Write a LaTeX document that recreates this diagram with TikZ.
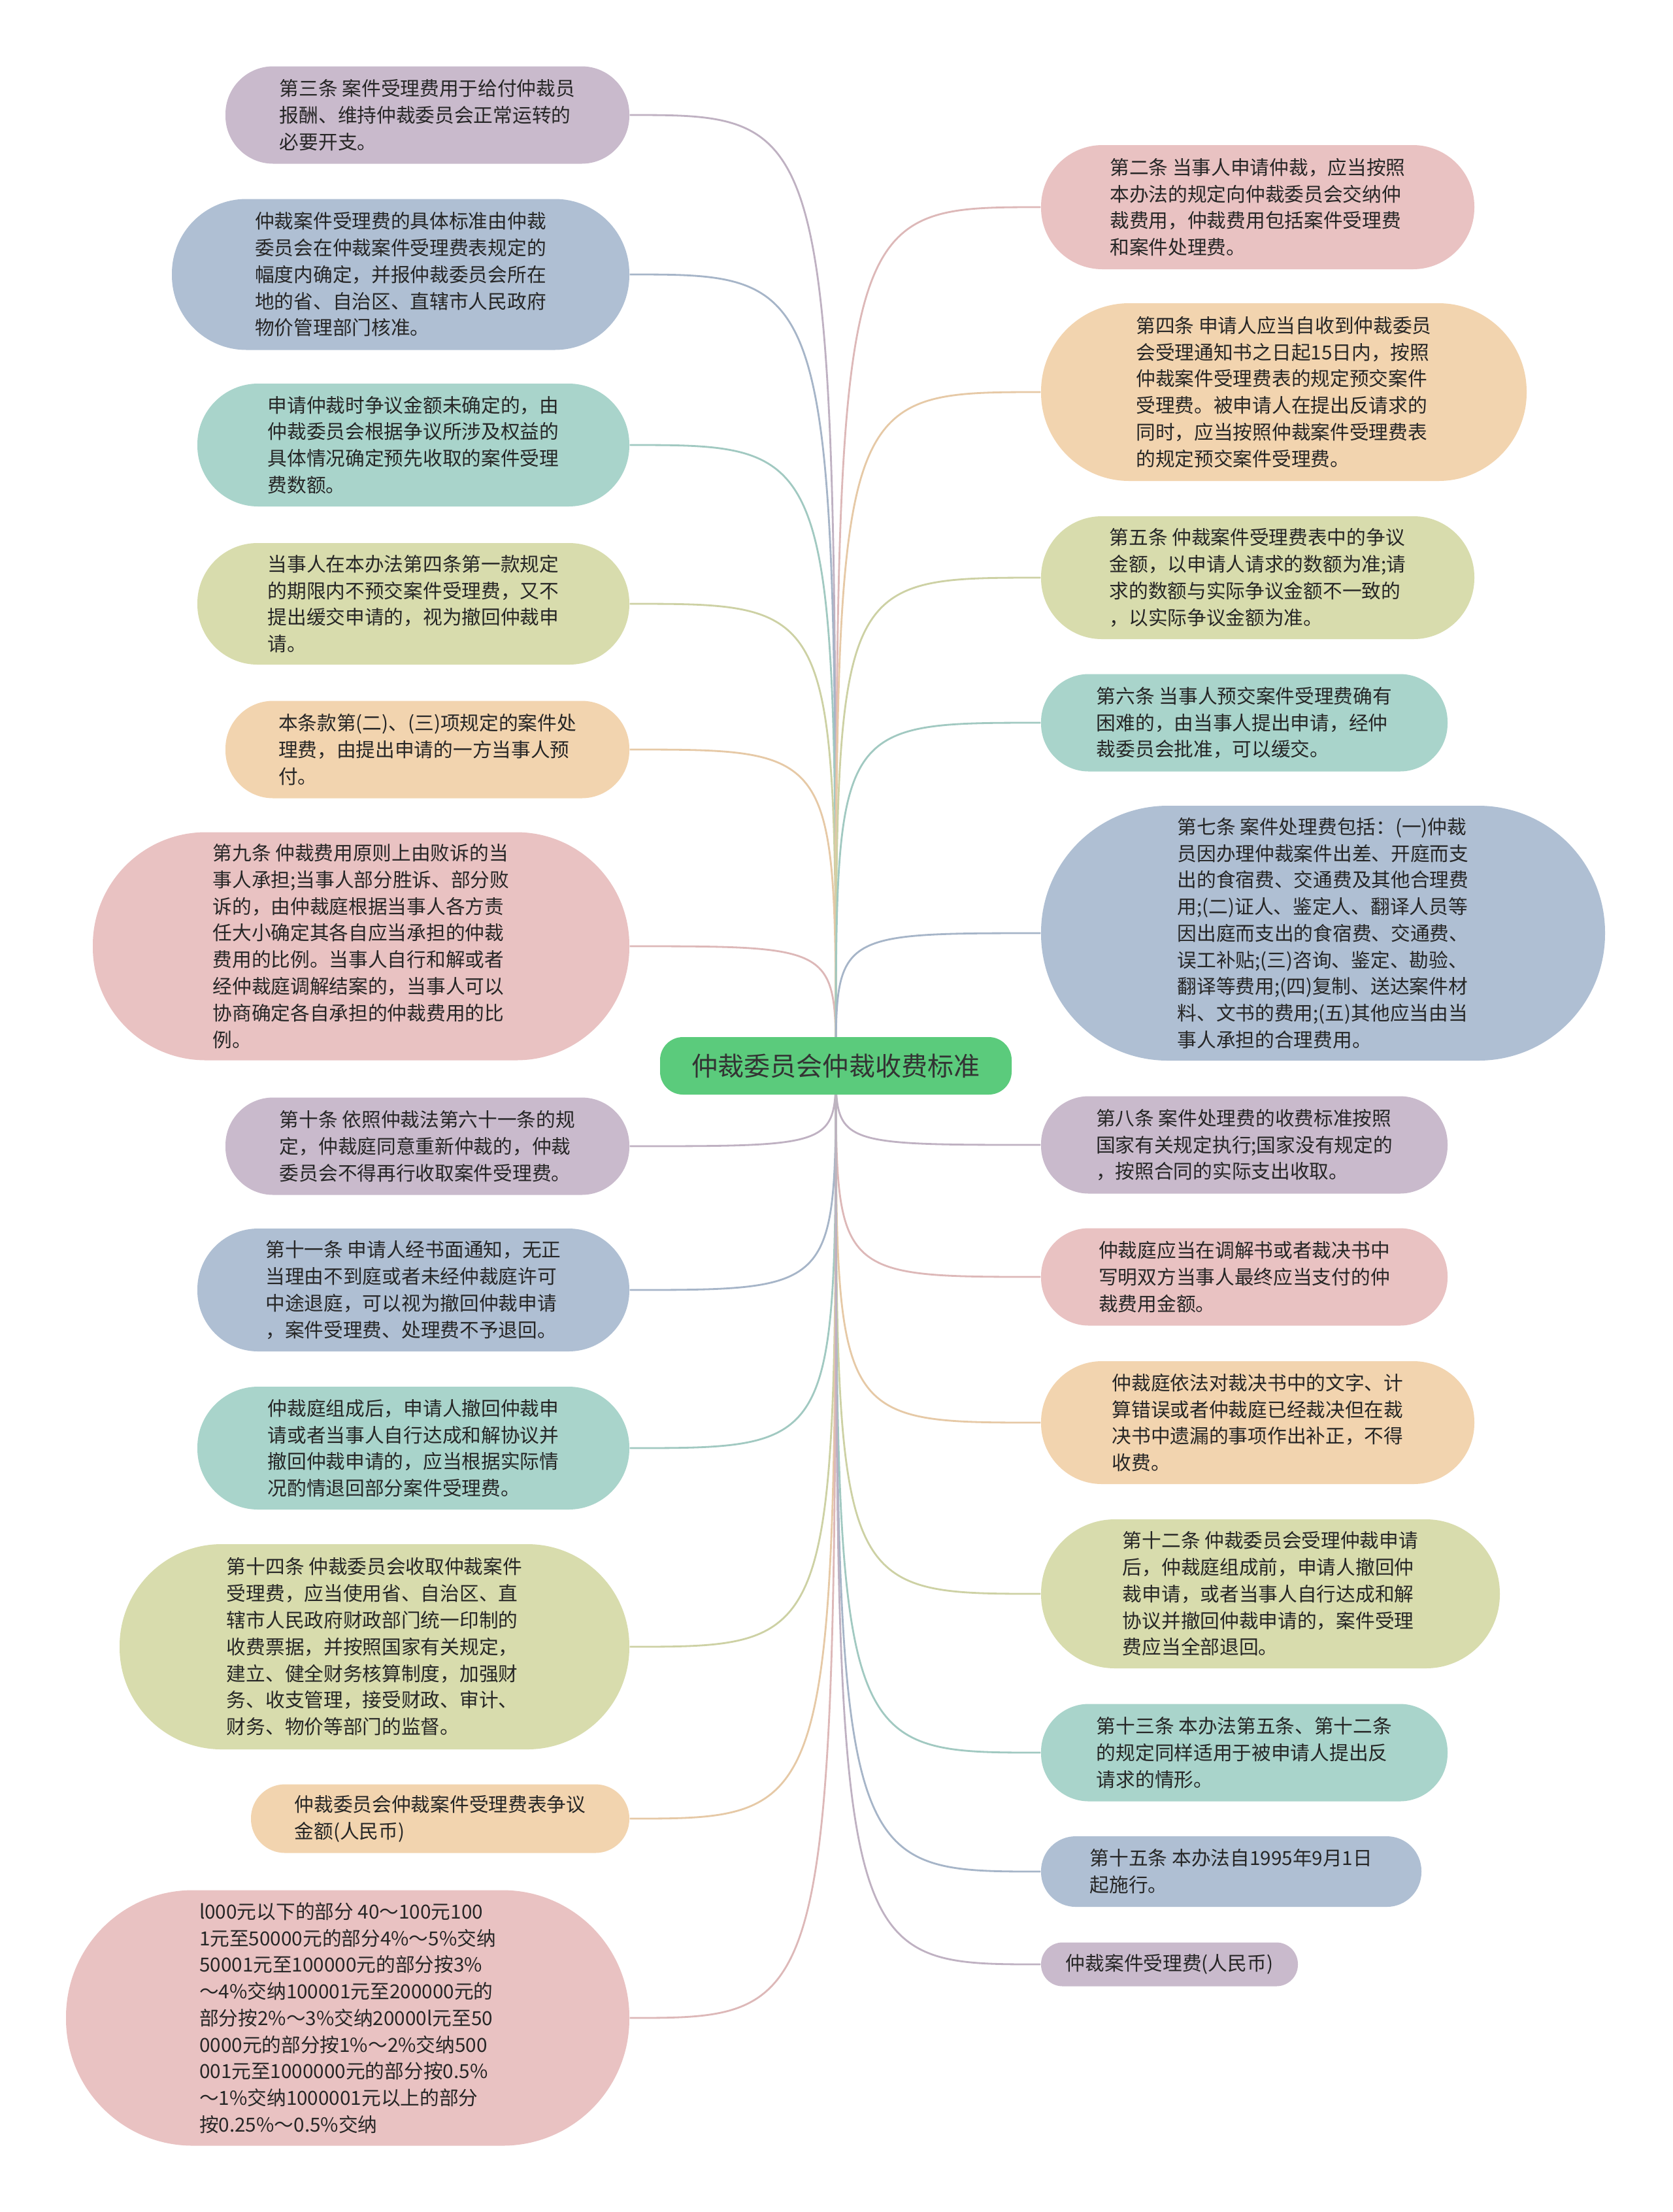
\documentclass[tikz,border=0pt]{standalone}
\usepackage{fontspec}
\usepackage{tikz}
\usetikzlibrary{backgrounds,positioning}
\newfontfamily\cjkfont{Noto Sans CJK SC}
\definecolor{mapGreen}{HTML}{5BCB7C}
\definecolor{mapPurple}{HTML}{C9BACC}
\definecolor{mapBlue}{HTML}{AFBFD3}
\definecolor{mapTeal}{HTML}{A9D4CB}
\definecolor{mapOlive}{HTML}{D8DCAD}
\definecolor{mapPeach}{HTML}{F2D4AF}
\definecolor{mapPink}{HTML}{E9C2C2}

\begin{document}
\begin{tikzpicture}[
  font=\cjkfont\fontsize{8.45}{11.6}\selectfont,
  leafbox/.style={align=left, inner sep=0pt, text=black!85},
  rootbox/.style={fill=mapGreen, rounded corners=0.35cm, minimum width=5.38cm, minimum height=0.88cm, inner sep=0pt, text=black!80, font=\cjkfont\fontsize{11.4}{14}\selectfont},
  branchline/.style={line width=0.8pt, to path={.. controls (\tikztostart |- \tikztotarget) and (\tikztostart |- \tikztotarget) .. (\tikztotarget)}}
]
\useasboundingbox (0,0) rectangle (25.6,-33.85);

\node[rootbox] (root) at (12.79,-16.31) {仲裁委员会仲裁收费标准};

% left side
\node[leafbox, fill=mapPurple, minimum width=6.18cm, minimum height=1.49cm, rounded corners=0.73cm] (art3) at (6.54,-1.76) {第三条 案件受理费用于给付仲裁员\\报酬、维持仲裁委员会正常运转的\\必要开支。};
\node[leafbox, fill=mapBlue, minimum width=7.00cm, minimum height=2.31cm, rounded corners=1.14cm] (standard) at (6.13,-4.20) {仲裁案件受理费的具体标准由仲裁\\委员会在仲裁案件受理费表规定的\\幅度内确定，并报仲裁委员会所在\\地的省、自治区、直辖市人民政府\\物价管理部门核准。};
\node[leafbox, fill=mapTeal, minimum width=6.61cm, minimum height=1.88cm, rounded corners=0.93cm] (undecided) at (6.325,-6.81) {申请仲裁时争议金额未确定的，由\\仲裁委员会根据争议所涉及权益的\\具体情况确定预先收取的案件受理\\费数额。};
\node[leafbox, fill=mapOlive, minimum width=6.61cm, minimum height=1.86cm, rounded corners=0.92cm] (nopay) at (6.325,-9.24) {当事人在本办法第四条第一款规定\\的期限内不预交案件受理费，又不\\提出缓交申请的，视为撤回仲裁申\\请。};
\node[leafbox, fill=mapPeach, minimum width=6.18cm, minimum height=1.49cm, rounded corners=0.73cm] (prepay) at (6.54,-11.47) {本条款第(二)、(三)项规定的案件处\\理费，由提出申请的一方当事人预\\付。};
\node[leafbox, fill=mapPink, minimum width=8.21cm, minimum height=3.49cm, rounded corners=1.73cm] (art9) at (5.525,-14.48) {第九条 仲裁费用原则上由败诉的当\\事人承担;当事人部分胜诉、部分败\\诉的，由仲裁庭根据当事人各方责\\任大小确定其各自应当承担的仲裁\\费用的比例。当事人自行和解或者\\经仲裁庭调解结案的，当事人可以\\协商确定各自承担的仲裁费用的比\\例。};
\node[leafbox, fill=mapPurple, minimum width=6.18cm, minimum height=1.49cm, rounded corners=0.73cm] (art10) at (6.54,-17.54) {第十条 依照仲裁法第六十一条的规\\定，仲裁庭同意重新仲裁的，仲裁\\委员会不得再行收取案件受理费。};
\node[leafbox, fill=mapBlue, minimum width=6.61cm, minimum height=1.88cm, rounded corners=0.93cm] (art11) at (6.325,-19.74) {第十一条 申请人经书面通知，无正\\当理由不到庭或者未经仲裁庭许可\\中途退庭，可以视为撤回仲裁申请\\，案件受理费、处理费不予退回。};
\node[leafbox, fill=mapTeal, minimum width=6.61cm, minimum height=1.88cm, rounded corners=0.93cm] (withdraw) at (6.325,-22.16) {仲裁庭组成后，申请人撤回仲裁申\\请或者当事人自行达成和解协议并\\撤回仲裁申请的，应当根据实际情\\况酌情退回部分案件受理费。};
\node[leafbox, fill=mapOlive, minimum width=7.80cm, minimum height=3.14cm, rounded corners=1.56cm] (art14) at (5.73,-25.20) {第十四条 仲裁委员会收取仲裁案件\\受理费，应当使用省、自治区、直\\辖市人民政府财政部门统一印制的\\收费票据，并按照国家有关规定，\\建立、健全财务核算制度，加强财\\务、收支管理，接受财政、审计、\\财务、物价等部门的监督。};
\node[leafbox, fill=mapPeach, minimum width=5.79cm, minimum height=1.05cm, rounded corners=0.52cm] (feetable) at (6.735,-27.83) {仲裁委员会仲裁案件受理费表争议\\金额(人民币)};
\node[leafbox, fill=mapPink, minimum width=8.62cm, minimum height=3.91cm, rounded corners=1.94cm] (rates) at (5.32,-30.88) {l000元以下的部分 40～100元100\\1元至50000元的部分4\%～5\%交纳\\50001元至100000元的部分按3\%\\～4\%交纳100001元至200000元的\\部分按2\%～3\%交纳20000l元至50\\0000元的部分按1\%～2\%交纳500\\001元至1000000元的部分按0.5\%\\～1\%交纳1000001元以上的部分\\按0.25\%～0.5\%交纳};

% right side
\node[leafbox, fill=mapPink, minimum width=6.63cm, minimum height=1.90cm, rounded corners=0.94cm] (art2) at (19.245,-3.17) {第二条 当事人申请仲裁，应当按照\\本办法的规定向仲裁委员会交纳仲\\裁费用，仲裁费用包括案件受理费\\和案件处理费。};
\node[leafbox, fill=mapPeach, minimum width=7.43cm, minimum height=2.72cm, rounded corners=1.35cm] (art4) at (19.645,-6.00) {第四条 申请人应当自收到仲裁委员\\会受理通知书之日起15日内，按照\\仲裁案件受理费表的规定预交案件\\受理费。被申请人在提出反请求的\\同时，应当按照仲裁案件受理费表\\的规定预交案件受理费。};
\node[leafbox, fill=mapOlive, minimum width=6.63cm, minimum height=1.88cm, rounded corners=0.93cm] (art5) at (19.245,-8.84) {第五条 仲裁案件受理费表中的争议\\金额，以申请人请求的数额为准;请\\求的数额与实际争议金额不一致的\\，以实际争议金额为准。};
\node[leafbox, fill=mapTeal, minimum width=6.22cm, minimum height=1.49cm, rounded corners=0.73cm] (art6) at (19.04,-11.06) {第六条 当事人预交案件受理费确有\\困难的，由当事人提出申请，经仲\\裁委员会批准，可以缓交。};
\node[leafbox, fill=mapBlue, minimum width=8.63cm, minimum height=3.90cm, rounded corners=1.94cm] (art7) at (20.245,-14.28) {第七条 案件处理费包括：(一)仲裁\\员因办理仲裁案件出差、开庭而支\\出的食宿费、交通费及其他合理费\\用;(二)证人、鉴定人、翻译人员等\\因出庭而支出的食宿费、交通费、\\误工补贴;(三)咨询、鉴定、勘验、\\翻译等费用;(四)复制、送达案件材\\料、文书的费用;(五)其他应当由当\\事人承担的合理费用。};
\node[leafbox, fill=mapPurple, minimum width=6.22cm, minimum height=1.49cm, rounded corners=0.73cm] (art8) at (19.04,-17.52) {第八条 案件处理费的收费标准按照\\国家有关规定执行;国家没有规定的\\，按照合同的实际支出收取。};
\node[leafbox, fill=mapPink, minimum width=6.22cm, minimum height=1.49cm, rounded corners=0.73cm] (mediation) at (19.04,-19.54) {仲裁庭应当在调解书或者裁决书中\\写明双方当事人最终应当支付的仲\\裁费用金额。};
\node[leafbox, fill=mapPeach, minimum width=6.63cm, minimum height=1.88cm, rounded corners=0.93cm] (correction) at (19.245,-21.77) {仲裁庭依法对裁决书中的文字、计\\算错误或者仲裁庭已经裁决但在裁\\决书中遗漏的事项作出补正，不得\\收费。};
\node[leafbox, fill=mapOlive, minimum width=7.02cm, minimum height=2.28cm, rounded corners=1.13cm] (art12) at (19.44,-24.39) {第十二条 仲裁委员会受理仲裁申请\\后，仲裁庭组成前，申请人撤回仲\\裁申请，或者当事人自行达成和解\\协议并撤回仲裁申请的，案件受理\\费应当全部退回。};
\node[leafbox, fill=mapTeal, minimum width=6.22cm, minimum height=1.49cm, rounded corners=0.73cm] (art13) at (19.04,-26.82) {第十三条 本办法第五条、第十二条\\的规定同样适用于被申请人提出反\\请求的情形。};
\node[leafbox, fill=mapBlue, minimum width=5.82cm, minimum height=1.08cm, rounded corners=0.53cm] (art15) at (18.84,-28.64) {第十五条 本办法自1995年9月1日\\起施行。};
\node[leafbox, fill=mapPurple, minimum width=3.93cm, minimum height=0.67cm, rounded corners=0.33cm] (casefee) at (17.895,-30.06) {仲裁案件受理费(人民币)};

% connectors
\begin{scope}[on background layer]
\fill[white] (0,0) rectangle (25.6,-33.85);
\draw[branchline, draw=mapPurple!95!black] (root.center) to (art3.east);
\draw[branchline, draw=mapBlue!95!black] (root.center) to (standard.east);
\draw[branchline, draw=mapTeal!95!black] (root.center) to (undecided.east);
\draw[branchline, draw=mapOlive!95!black] (root.center) to (nopay.east);
\draw[branchline, draw=mapPeach!95!black] (root.center) to (prepay.east);
\draw[branchline, draw=mapPink!95!black] (root.center) to (art9.east);
\draw[branchline, draw=mapPurple!95!black] (root.center) to (art10.east);
\draw[branchline, draw=mapBlue!95!black] (root.center) to (art11.east);
\draw[branchline, draw=mapTeal!95!black] (root.center) to (withdraw.east);
\draw[branchline, draw=mapOlive!95!black] (root.center) to (art14.east);
\draw[branchline, draw=mapPeach!95!black] (root.center) to (feetable.east);
\draw[branchline, draw=mapPink!95!black] (root.center) to (rates.east);
\draw[branchline, draw=mapPink!95!black] (root.center) to (art2.west);
\draw[branchline, draw=mapPeach!95!black] (root.center) to (art4.west);
\draw[branchline, draw=mapOlive!95!black] (root.center) to (art5.west);
\draw[branchline, draw=mapTeal!95!black] (root.center) to (art6.west);
\draw[branchline, draw=mapBlue!95!black] (root.center) to (art7.west);
\draw[branchline, draw=mapPurple!95!black] (root.center) to (art8.west);
\draw[branchline, draw=mapPink!95!black] (root.center) to (mediation.west);
\draw[branchline, draw=mapPeach!95!black] (root.center) to (correction.west);
\draw[branchline, draw=mapOlive!95!black] (root.center) to (art12.west);
\draw[branchline, draw=mapTeal!95!black] (root.center) to (art13.west);
\draw[branchline, draw=mapBlue!95!black] (root.center) to (art15.west);
\draw[branchline, draw=mapPurple!95!black] (root.center) to (casefee.west);
\end{scope}
\end{tikzpicture}
\end{document}
